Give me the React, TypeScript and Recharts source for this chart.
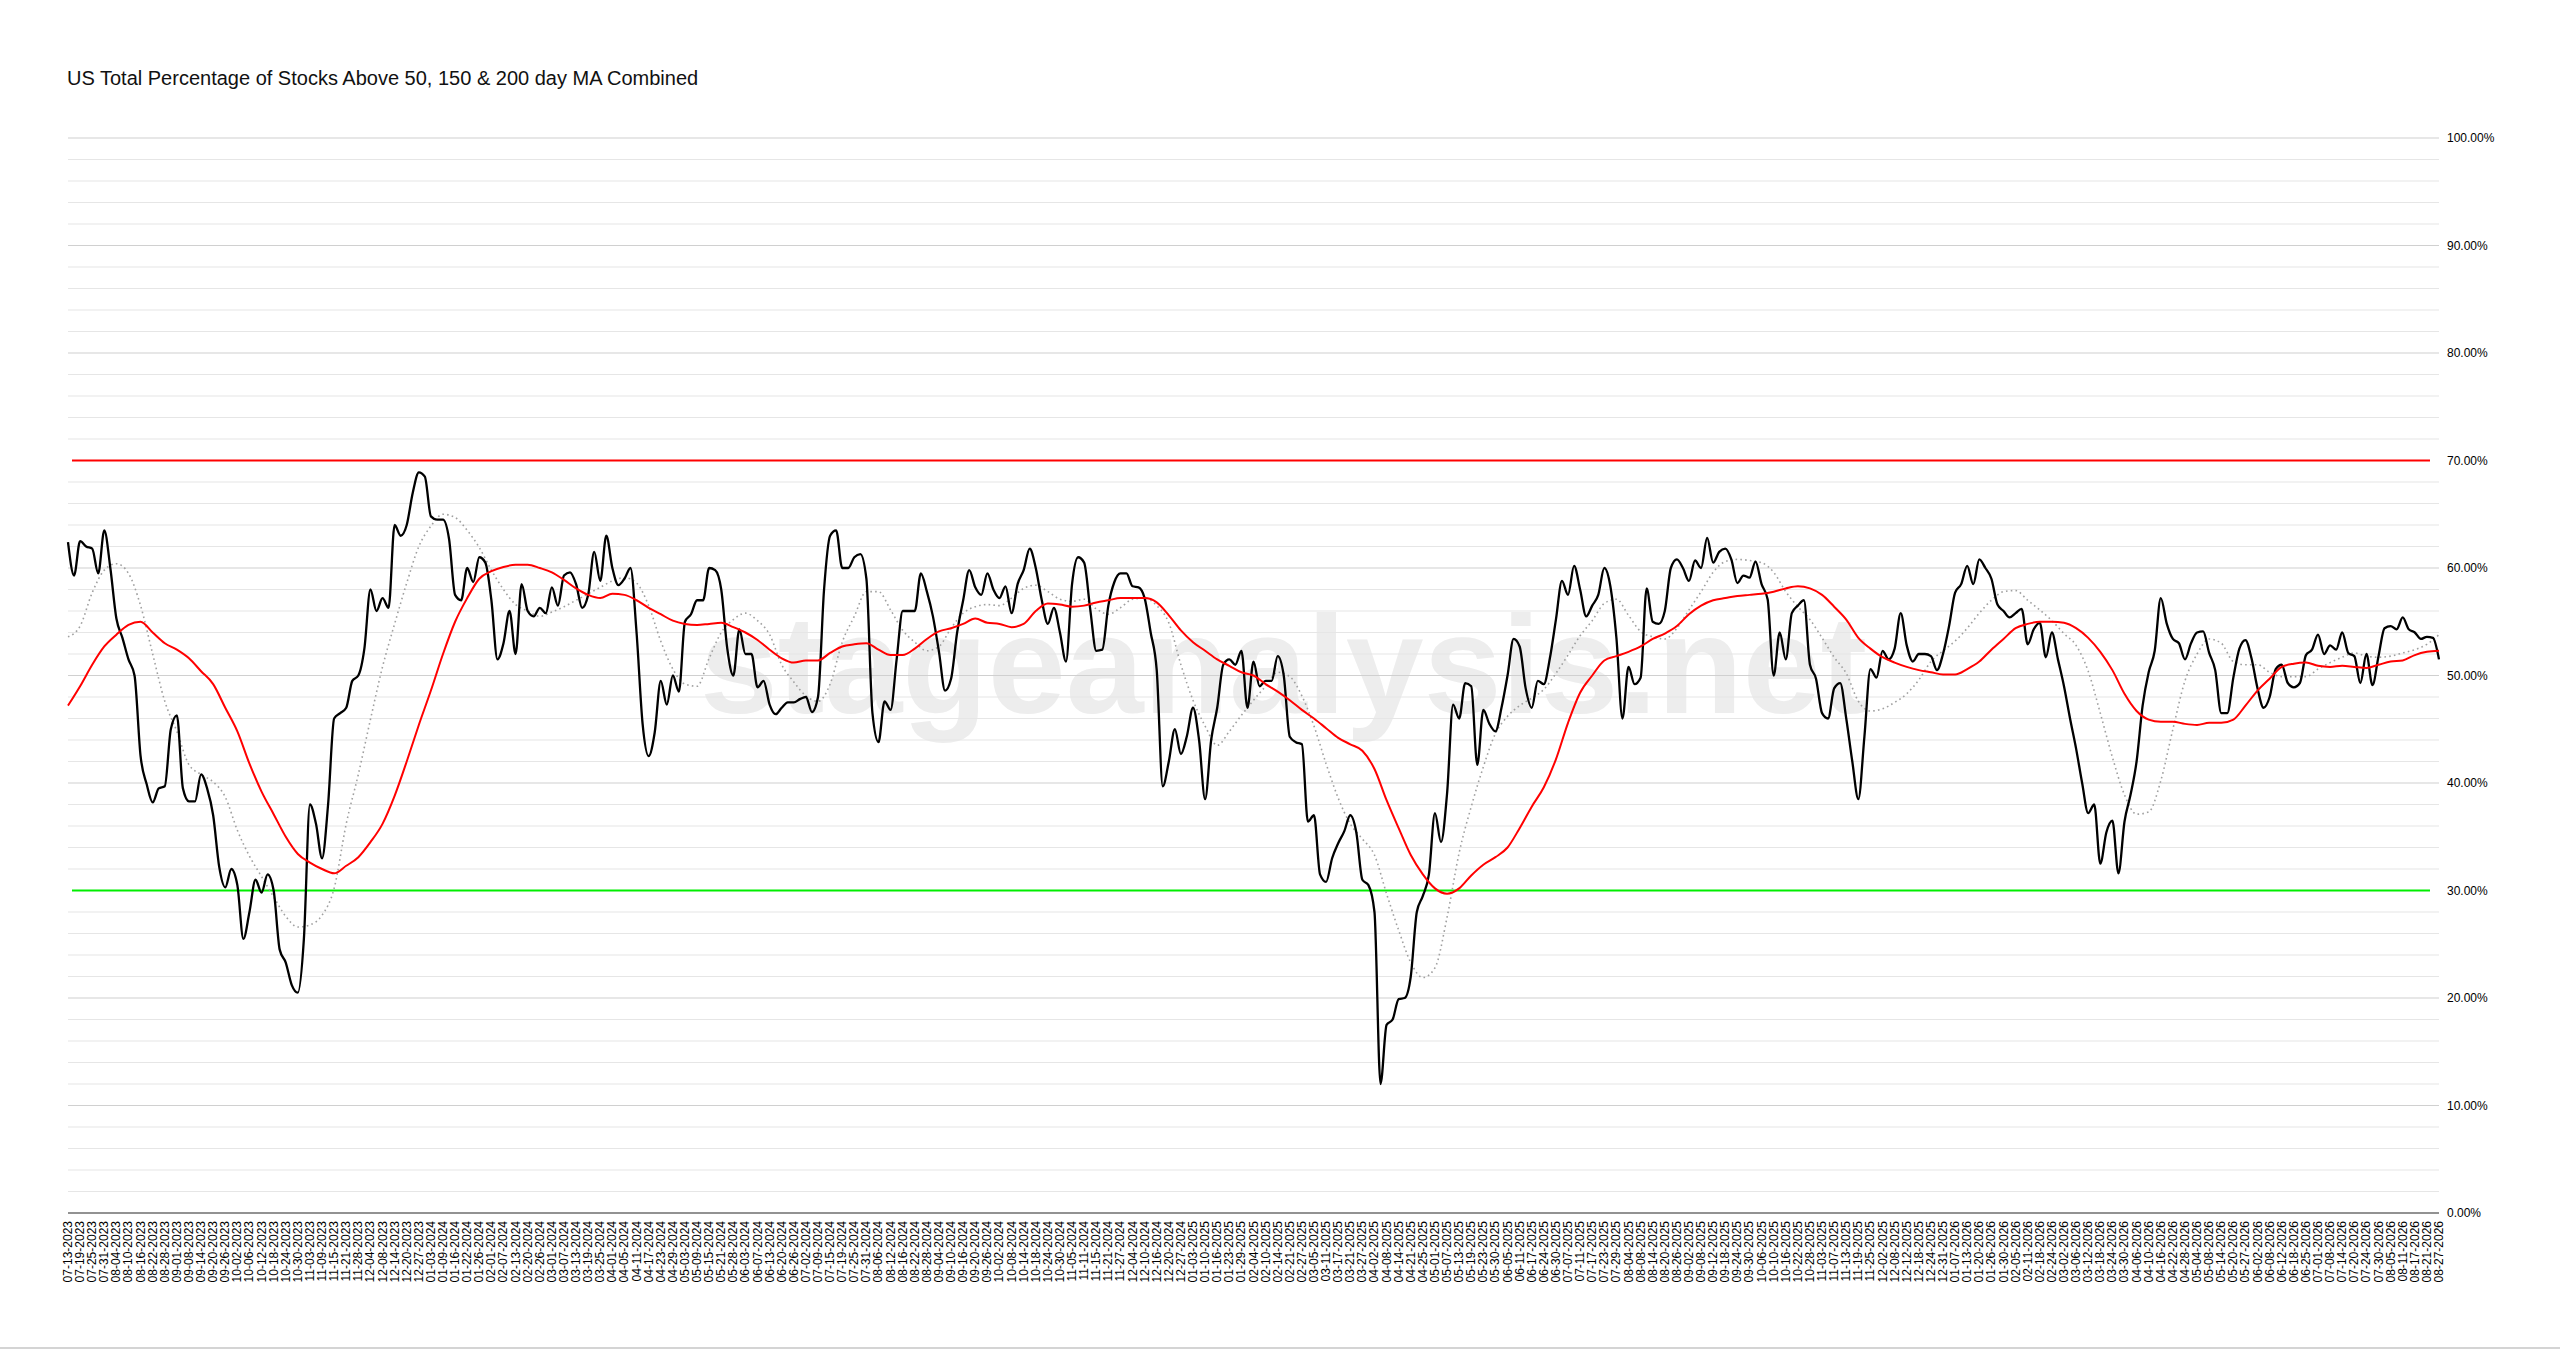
import React from "react"
import { LineChart, Line, XAxis, YAxis, ReferenceLine } from "recharts"

// one label every 4 trading days
const dates = [
  "07-13-2023", "07-19-2023", "07-25-2023", "07-31-2023", "08-04-2023", "08-10-2023", "08-16-2023", "08-22-2023", "08-28-2023", "09-01-2023",
  "09-08-2023", "09-14-2023", "09-20-2023", "09-26-2023", "10-02-2023", "10-06-2023", "10-12-2023", "10-18-2023", "10-24-2023", "10-30-2023",
  "11-03-2023", "11-09-2023", "11-15-2023", "11-21-2023", "11-28-2023", "12-04-2023", "12-08-2023", "12-14-2023", "12-20-2023", "12-27-2023",
  "01-03-2024", "01-09-2024", "01-16-2024", "01-22-2024", "01-26-2024", "02-01-2024", "02-07-2024", "02-13-2024", "02-20-2024", "02-26-2024",
  "03-01-2024", "03-07-2024", "03-13-2024", "03-19-2024", "03-25-2024", "04-01-2024", "04-05-2024", "04-11-2024", "04-17-2024", "04-23-2024",
  "04-29-2024", "05-03-2024", "05-09-2024", "05-15-2024", "05-21-2024", "05-28-2024", "06-03-2024", "06-07-2024", "06-13-2024", "06-20-2024",
  "06-26-2024", "07-02-2024", "07-09-2024", "07-15-2024", "07-19-2024", "07-25-2024", "07-31-2024", "08-06-2024", "08-12-2024", "08-16-2024",
  "08-22-2024", "08-28-2024", "09-04-2024", "09-10-2024", "09-16-2024", "09-20-2024", "09-26-2024", "10-02-2024", "10-08-2024", "10-14-2024",
  "10-18-2024", "10-24-2024", "10-30-2024", "11-05-2024", "11-11-2024", "11-15-2024", "11-21-2024", "11-27-2024", "12-04-2024", "12-10-2024",
  "12-16-2024", "12-20-2024", "12-27-2024", "01-03-2025", "01-10-2025", "01-16-2025", "01-23-2025", "01-29-2025", "02-04-2025", "02-10-2025",
  "02-14-2025", "02-21-2025", "02-27-2025", "03-05-2025", "03-11-2025", "03-17-2025", "03-21-2025", "03-27-2025", "04-02-2025", "04-08-2025",
  "04-14-2025", "04-21-2025", "04-25-2025", "05-01-2025", "05-07-2025", "05-13-2025", "05-19-2025", "05-23-2025", "05-30-2025", "06-05-2025",
  "06-11-2025", "06-17-2025", "06-24-2025", "06-30-2025", "07-07-2025", "07-11-2025", "07-17-2025", "07-23-2025", "07-29-2025", "08-04-2025",
  "08-08-2025", "08-14-2025", "08-20-2025", "08-26-2025", "09-02-2025", "09-08-2025", "09-12-2025", "09-18-2025", "09-24-2025", "09-30-2025",
  "10-06-2025", "10-10-2025", "10-16-2025", "10-22-2025", "10-28-2025", "11-03-2025", "11-07-2025", "11-13-2025", "11-19-2025", "11-25-2025",
  "12-02-2025", "12-08-2025", "12-12-2025", "12-18-2025", "12-24-2025", "12-31-2025", "01-07-2026", "01-13-2026", "01-20-2026", "01-26-2026",
  "01-30-2026", "02-05-2026", "02-11-2026", "02-18-2026", "02-24-2026", "03-02-2026", "03-06-2026", "03-12-2026", "03-18-2026", "03-24-2026",
  "03-30-2026", "04-06-2026", "04-10-2026", "04-16-2026", "04-22-2026", "04-28-2026", "05-04-2026", "05-08-2026", "05-14-2026", "05-20-2026",
  "05-27-2026", "06-02-2026", "06-08-2026", "06-12-2026", "06-18-2026", "06-25-2026", "07-01-2026", "07-08-2026", "07-14-2026", "07-20-2026",
  "07-24-2026", "07-30-2026", "08-05-2026", "08-11-2026", "08-17-2026", "08-21-2026", "08-27-2026",
]

// combined % of stocks above the 50, 150 & 200 day MAs (black), read every 2 trading days
const combined = [
  62.4, 59.3, 62.5, 62, 61.8, 59.5, 63.5, 60, 55.3, 53.5,
  51.5, 50, 42.5, 39.9, 38.2, 39.5, 39.7, 45, 46.3, 39.5,
  38.3, 38.3, 40.8, 39.5, 37, 32.2, 30.3, 32, 30.5, 25.5,
  28, 31, 29.8, 31.5, 30, 24.5, 23.3, 21.2, 20.5, 25.5,
  38, 36.2, 33, 38, 46, 46.5, 47, 49.5, 50, 52.5,
  58, 56, 57.2, 56.3, 64, 63, 64, 67, 68.9, 68.5,
  64.8, 64.5, 64.5, 62.7, 57.5, 57, 60, 58.7, 61, 60.5,
  57, 51.5, 53, 56, 52, 58.5, 56, 55.5, 56.3, 55.8,
  58.2, 56.5, 59.3, 59.6, 58.5, 56.3, 57.5, 61.5, 58.8, 63,
  60, 58.4, 59, 60, 54, 45.5, 42.5, 44.7, 49.5, 47.3,
  50, 48.5, 55, 55.7, 57, 57, 60, 59.8, 58, 52.5,
  50, 54.3, 52, 52, 48.9, 49.5, 47.3, 46.4, 47, 47.5,
  47.5, 47.8, 48, 46.6, 48, 58, 63, 63.5, 60, 60,
  61, 61.3, 59, 46.5, 43.8, 47.6, 46.8, 51.5, 56, 56,
  56, 59.5, 57.8, 55.5, 52.2, 48.6, 49.7, 54, 57, 59.8,
  58.2, 57.5, 59.5, 58, 57.2, 58.3, 55.8, 58.5, 59.8, 61.8,
  60, 57, 54.8, 56.3, 54, 51.3, 58.5, 61, 60.5, 56.2,
  52.3, 52.4, 56.5, 58.7, 59.5, 59.5, 58.3, 58.2, 57.2, 54,
  50.5, 39.7, 42, 45, 42.7, 44.4, 47, 44, 38.5, 44,
  47, 51, 51.5, 51, 52.3, 47, 51.3, 49, 49.5, 49.5,
  51.8, 50, 44.3, 43.8, 43.6, 36.4, 37, 31.5, 30.8, 33,
  34.4, 35.5, 37, 35.4, 31, 30.5, 28, 12, 17.5, 18,
  19.9, 20, 22, 28, 29.5, 31.5, 37.2, 34.5, 39, 47.3,
  46, 49.3, 49, 41.7, 46.8, 45.5, 44.8, 47, 50, 53.4,
  52.7, 48.8, 47, 49.5, 49.2, 51.6, 55.2, 58.8, 57.5, 60.2,
  58, 55.5, 56.5, 57.5, 60, 58.3, 53.5, 46, 50.8, 49.2,
  49.8, 58.1, 55, 54.8, 56, 60, 60.8, 60, 58.8, 60.7,
  60, 62.8, 60.5, 61.5, 61.8, 60.8, 58.6, 59.3, 59.1, 60.6,
  58.5, 57.1, 50, 54, 51.5, 55.8, 56.5, 57, 51, 49.7,
  46.5, 46, 48.8, 49.3, 46, 42, 38.5, 44.3, 50.6, 49.8,
  52.3, 51.5, 52.5, 55.8, 52.8, 51.3, 52, 52, 51.8, 50.5,
  52, 54.6, 57.7, 58.5, 60.2, 58.5, 60.8, 60, 59, 56.6,
  56, 55.4, 55.8, 56.2, 52.9, 54.3, 54.9, 51.7, 54, 51.5,
  49, 46, 43.2, 40, 37.2, 38, 32.5, 35.4, 36.5, 31.6,
  36.4, 38.9, 42, 47.2, 50.3, 52.3, 57.2, 54.8, 53.4, 53,
  51.5, 53, 54, 54.1, 52.1, 50.5, 46.5, 46.5, 49.8, 52.5,
  53.3, 51.6, 48.8, 47, 48, 50.6, 51, 49.3, 48.9, 49.3,
  51.9, 52.4, 53.8, 52, 52.8, 52.4, 54, 52.1, 51.8, 49.3,
  52, 49.1, 51.8, 54.4, 54.6, 54.3, 55.4, 54.3, 54, 53.4,
  53.6, 53.5, 51.5,
]

// slow moving average (red), one value per date label
const slowAverage = [
  47.2, 49, 51, 52.7, 53.8, 54.7, 55, 54, 53, 52.4,
  51.6, 50.4, 49.2, 47, 44.8, 41.8, 39.2, 37.1, 35, 33.4,
  32.6, 32, 31.6, 32.3, 33.1, 34.5, 36.2, 38.8, 42, 45.4,
  48.6, 52, 55, 57.2, 59, 59.7, 60.1, 60.3, 60.3, 60,
  59.6, 58.9, 58.1, 57.5, 57.2, 57.6, 57.5, 57, 56.3, 55.7,
  55.1, 54.8, 54.7, 54.8, 54.9, 54.5, 54, 53.3, 52.4, 51.6,
  51.2, 51.4, 51.4, 52.1, 52.7, 52.9, 53, 52.4, 51.9, 51.9,
  52.5, 53.4, 54.1, 54.4, 54.8, 55.3, 54.9, 54.8, 54.5, 54.8,
  56, 56.7, 56.6, 56.4, 56.5, 56.8, 57, 57.2, 57.2, 57.2,
  56.8, 55.6, 54.2, 53.1, 52.3, 51.5, 50.9, 50.3, 50, 49.2,
  48.5, 47.7, 46.8, 46, 45.1, 44.2, 43.6, 43, 41.3, 38.4,
  35.8, 33.3, 31.5, 30.2, 29.7, 30.2, 31.4, 32.4, 33.1, 34,
  35.8, 37.8, 39.6, 42.2, 45.6, 48.4, 50, 51.4, 51.8, 52.2,
  52.7, 53.4, 53.9, 54.6, 55.7, 56.5, 57, 57.2, 57.4, 57.5,
  57.6, 57.8, 58.1, 58.3, 58.1, 57.5, 56.4, 55.2, 53.5, 52.5,
  51.7, 51.2, 50.8, 50.5, 50.3, 50.1, 50.1, 50.6, 51.3, 52.4,
  53.4, 54.4, 54.8, 55, 55, 54.9, 54.4, 53.5, 52.2, 50.5,
  48.3, 46.7, 45.9, 45.7, 45.7, 45.5, 45.4, 45.6, 45.6, 45.9,
  47.2, 48.6, 49.7, 50.8, 51.1, 51.2, 50.9, 50.8, 50.9, 50.8,
  50.7, 51, 51.3, 51.4, 51.9, 52.2, 52.3,
]

// fast moving average (grey dotted), one value per date label
const fastAverage = [
  53.6, 54.6, 57.7, 59.8, 60.4, 59.5, 56.5, 52, 47.6, 44.8,
  41.7, 40.8, 40.1, 38.7, 35.6, 33.2, 31.3, 29.4, 27.6, 26.6,
  26.8, 27.7, 30.2, 36.2, 40.8, 45.9, 50.8, 54.8, 58.6, 62,
  63.9, 65, 64.7, 63.5, 61.9, 59.8, 58, 56.6, 56, 55.5,
  55.9, 56.4, 57, 57.6, 58.2, 58.8, 59.1, 58.6, 56.5, 53.2,
  50.6, 49.2, 49, 51.6, 54, 55.2, 55.8, 55.1, 53.8, 51,
  49.4, 48.1, 47.6, 49.2, 53.1, 55.5, 57.8, 57.8, 56.1, 54.2,
  53.1, 52.3, 52.7, 54.4, 55.8, 56.4, 56.6, 56.5, 57.2, 58.1,
  58.4, 57.8, 57.1, 56.9, 57.1, 56.2, 55.7, 56.3, 57.1, 57.2,
  56.5, 54.9, 51, 47.7, 45.3, 43.5, 44.8, 46.3, 47.7, 49,
  50.3, 49.9, 48.1, 45.3, 41.8, 38.6, 36.2, 34.8, 33.3, 29.7,
  26.3, 23.3, 21.9, 22.8, 27.5, 33.5, 37.8, 41.5, 44.6, 46.2,
  47.2, 47.9, 48.7, 50.2, 51.9, 53.7, 55.1, 56.7, 57.1, 55.6,
  54.1, 53.6, 53.4, 54.4, 56.1, 57.8, 59.6, 60.6, 60.8, 60.7,
  60.5, 59.6, 57.8, 56.4, 55.2, 53.5, 51.7, 50.2, 47.6, 46.7,
  46.9, 47.5, 48.3, 49.6, 51.3, 52.3, 53.2, 54.4, 55.8, 57,
  57.8, 57.9, 57, 56.1, 55.1, 53.9, 52.8, 50.4, 46.5, 42.4,
  38.9, 37.1, 37.3, 40.2, 45, 49.5, 52, 53.4, 53, 51.3,
  51, 51, 50.3, 49.9, 49.9, 49.9, 50.6, 51.2, 51.7, 52.1,
  51.8, 51.7, 51.8, 52.1, 52.4, 52.9, 53.8,
]

const yTicks = [0, 10, 20, 30, 40, 50, 60, 70, 80, 90, 100]
const minorLevels = [
  2, 4, 6, 8, 12, 14, 16, 18, 22, 24, 26, 28, 32, 34, 36, 38, 42, 44, 46, 48,
  52, 54, 56, 58, 62, 64, 66, 68, 72, 74, 76, 78, 82, 84, 86, 88, 92, 94, 96, 98,
]
const majorLevels = [10, 20, 40, 50, 60, 80, 90, 100]

// x is measured in label steps (4 trading days each)
const dailyRows = combined.map((value, k) => ({ t: k / 2, value }))
const slowRows = slowAverage.map((value, i) => ({ t: i, value }))
const fastRows = fastAverage.map((value, i) => ({ t: i, value }))
const labelTicks = dates.map((_, i) => i)

const DateTick = (props: any) => {
  const { x, y, payload } = props
  return (
    <text
      x={x}
      y={y}
      transform={`rotate(-90 ${x} ${y})`}
      textAnchor="end"
      dominantBaseline="central"
      fontSize={12}
      fill="#000"
    >
      {dates[payload.value]}
    </text>
  )
}

// the 30% / 70% lines run a little past the grid on both sides
const WideLine = (props: any) => (
  <line
    x1={props.x1 - 9}
    x2={props.x2 + 4}
    y1={props.y1}
    y2={props.y2}
    stroke={props.stroke}
    strokeWidth={props.strokeWidth}
  />
)

export default function App() {
  return (
    <div
      style={{
        position: "absolute",
        left: 0,
        top: 0,
        width: 2560,
        height: 1350,
        background: "#fff",
        fontFamily: '"Liberation Sans", Arial, sans-serif',
      }}
    >
      <svg width={2560} height={1350} style={{ position: "absolute", left: 0, top: 0 }}>
        <text x={67} y={85} fontSize={20} fill="#111">
          US Total Percentage of Stocks Above 50, 150 &amp; 200 day MA Combined
        </text>
        <text x={700} y={713} fontSize={140} fontWeight="bold" fill="#ededed">
          stageanalysis.net
        </text>
        <line x1={0} x2={2560} y1={1348} y2={1348} stroke="#d4d4d4" strokeWidth={2} />
      </svg>
      <div style={{ position: "absolute", left: 0, top: 0 }}>
        <LineChart width={2560} height={1350} margin={{ top: 138, right: 0, bottom: 57, left: 68 }}>
          {minorLevels.map((v) => (
            <ReferenceLine key={`m${v}`} y={v} stroke="#e6e6e6" strokeWidth={1.2} />
          ))}
          {majorLevels.map((v) => (
            <ReferenceLine key={`M${v}`} y={v} stroke="#d0d0d0" strokeWidth={1.2} />
          ))}
          <XAxis
            type="number"
            dataKey="t"
            domain={[0, dates.length - 1]}
            ticks={labelTicks}
            interval={0}
            height={80}
            tick={<DateTick />}
            tickLine={false}
            axisLine={{ stroke: "#6e6e6e", strokeWidth: 1.6 }}
          />
          <YAxis
            orientation="right"
            width={121}
            domain={[0, 100]}
            ticks={yTicks}
            tickFormatter={(v) => `${v.toFixed(2)}%`}
            axisLine={false}
            tickLine={false}
            tick={{ fontSize: 12, fill: "#000" }}
          />
          <ReferenceLine y={70} stroke="#ff0000" strokeWidth={2} shape={WideLine} />
          <ReferenceLine y={30} stroke="#00ee00" strokeWidth={2} shape={WideLine} />
          <Line
            data={fastRows}
            type="monotone"
            dataKey="value"
            stroke="#a0a0a0"
            strokeWidth={1.6}
            strokeDasharray="1.6 3.2"
            dot={false}
            isAnimationActive={false}
          />
          <Line
            data={dailyRows}
            type="monotone"
            dataKey="value"
            stroke="#000"
            strokeWidth={2.3}
            dot={false}
            isAnimationActive={false}
          />
          <Line
            data={slowRows}
            type="monotone"
            dataKey="value"
            stroke="#ff0000"
            strokeWidth={2}
            dot={false}
            isAnimationActive={false}
          />
        </LineChart>
      </div>
    </div>
  )
}
